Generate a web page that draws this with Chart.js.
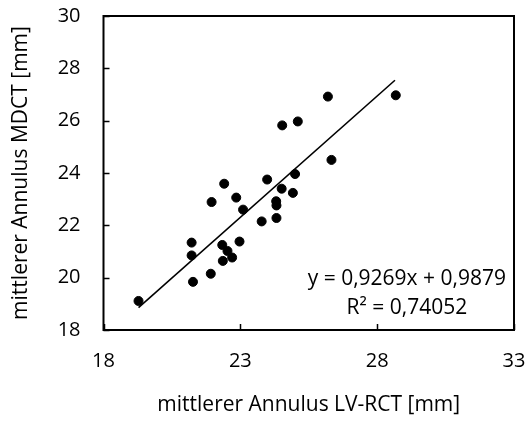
<!DOCTYPE html>
<html>
<head>
<meta charset="utf-8">
<script src="https://cdn.jsdelivr.net/npm/chart.js@4.4.0/dist/chart.umd.min.js"></script>
<style>
  html, body { margin: 0; padding: 0; background: #fff; }
  #wrap { width: 528px; height: 425px; }
</style>
</head>
<body>
<div id="wrap"><canvas id="chart" width="528" height="425"></canvas></div>
<script>
const lvRct = [19.28, 21.22, 21.22, 21.27, 21.92, 21.95, 22.34, 22.36, 22.41, 22.53, 22.70, 22.85, 22.97, 23.10,
               23.78, 23.98, 24.31, 24.32, 24.32, 24.51, 24.53, 24.92, 25.00, 25.10, 26.20, 26.33, 28.68];
const mdct  = [19.11, 21.34, 20.85, 19.84, 20.15, 22.89, 21.25, 20.64, 23.59, 21.02, 20.77, 23.06, 21.38, 22.60,
               22.15, 23.75, 22.92, 22.76, 22.28, 23.40, 25.82, 23.24, 23.96, 25.97, 26.92, 24.50, 26.97];

// linear trendline as printed on the chart
const slope = 0.9269;
const intercept = 0.9879;
const trendX = [19.28, 28.65];
const eqLines = ['y = 0,9269x + 0,9879', 'R² = 0,74052'];

const xTitle = 'mittlerer Annulus LV-RCT [mm]';
const yTitle = 'mittlerer Annulus MDCT [mm]';

const FONT = '"Open Sans", "Liberation Sans", sans-serif';

const points = lvRct.map((x, i) => ({ x: x, y: mdct[i] }));
const trend = trendX.map(x => ({ x: x, y: slope * x + intercept }));

// frame, inner tick marks and regression text
const extras = {
    id: 'extras',
    afterDraw(chart) {
        const ctx = chart.ctx;
        const a = chart.chartArea;
        const xs = chart.scales.x;
        const ys = chart.scales.y;
        ctx.save();
        ctx.strokeStyle = '#000';
        ctx.lineWidth = 2;
        ctx.beginPath();
        ctx.moveTo(a.left, a.top);
        ctx.lineTo(a.right, a.top);
        ctx.lineTo(a.right, a.bottom);
        ctx.lineTo(a.left, a.bottom);
        ctx.closePath();
        ctx.stroke();

        ctx.lineWidth = 1.5;
        ctx.beginPath();
        xs.ticks.forEach(t => {
            const px = Math.round(xs.getPixelForValue(t.value)) + 0.5;
            ctx.moveTo(px, a.bottom);
            ctx.lineTo(px, a.bottom - 6);
        });
        ys.ticks.forEach(t => {
            const py = Math.round(ys.getPixelForValue(t.value)) + 0.5;
            ctx.moveTo(a.left, py);
            ctx.lineTo(a.left + 6, py);
        });
        ctx.stroke();

        ctx.fillStyle = '#000';
        ctx.font = '21px ' + FONT;
        ctx.textBaseline = 'middle';
        ctx.textAlign = 'right';
        const right = a.right - 8;
        ctx.fillText(eqLines[0], right, a.bottom - 51);
        const w = ctx.measureText(eqLines[0]).width;
        ctx.textAlign = 'center';
        ctx.fillText(eqLines[1], right - w / 2, a.bottom - 22);
        ctx.restore();
    }
};

new Chart(document.getElementById('chart'), {
    type: 'scatter',
    data: {
        datasets: [
            {
                data: points,
                backgroundColor: '#000',
                borderColor: '#000',
                pointRadius: 4.5,
                pointHoverRadius: 4.5,
            },
            {
                type: 'line',
                data: trend,
                borderColor: '#000',
                borderWidth: 1.6,
                pointRadius: 0,
                fill: false,
            },
        ],
    },
    options: {
        responsive: false,
        animation: false,
        layout: { padding: { top: 16, right: 14, left: 0, bottom: 0 } },
        plugins: {
            legend: { display: false },
            tooltip: { enabled: false },
        },
        scales: {
            x: {
                type: 'linear',
                min: 18,
                max: 33,
                ticks: {
                    stepSize: 5,
                    color: '#000',
                    padding: 19,
                    font: { family: FONT, size: 20 },
                },
                grid: { display: false, drawTicks: false },
                border: { display: false },
                title: {
                    display: true,
                    text: xTitle,
                    color: '#000',
                    font: { family: FONT, size: 21 },
                    padding: { top: 0, bottom: 7 },
                },
                afterFit(scale) {
                    scale.height = 95;
                    scale.paddingLeft = 0;
                    scale.paddingRight = 0;
                },
            },
            y: {
                type: 'linear',
                min: 18,
                max: 30,
                ticks: {
                    stepSize: 2,
                    color: '#000',
                    padding: 23,
                    font: { family: FONT, size: 20 },
                },
                grid: { display: false, drawTicks: false },
                border: { display: false },
                title: {
                    display: true,
                    text: yTitle,
                    color: '#000',
                    font: { family: FONT, size: 21 },
                    padding: { top: 8, bottom: 0 },
                },
                afterFit(scale) {
                    scale.width = 103.5;
                    scale.paddingTop = 0;
                    scale.paddingBottom = 0;
                },
            },
        },
    },
    plugins: [extras],
});
</script>
</body>
</html>
